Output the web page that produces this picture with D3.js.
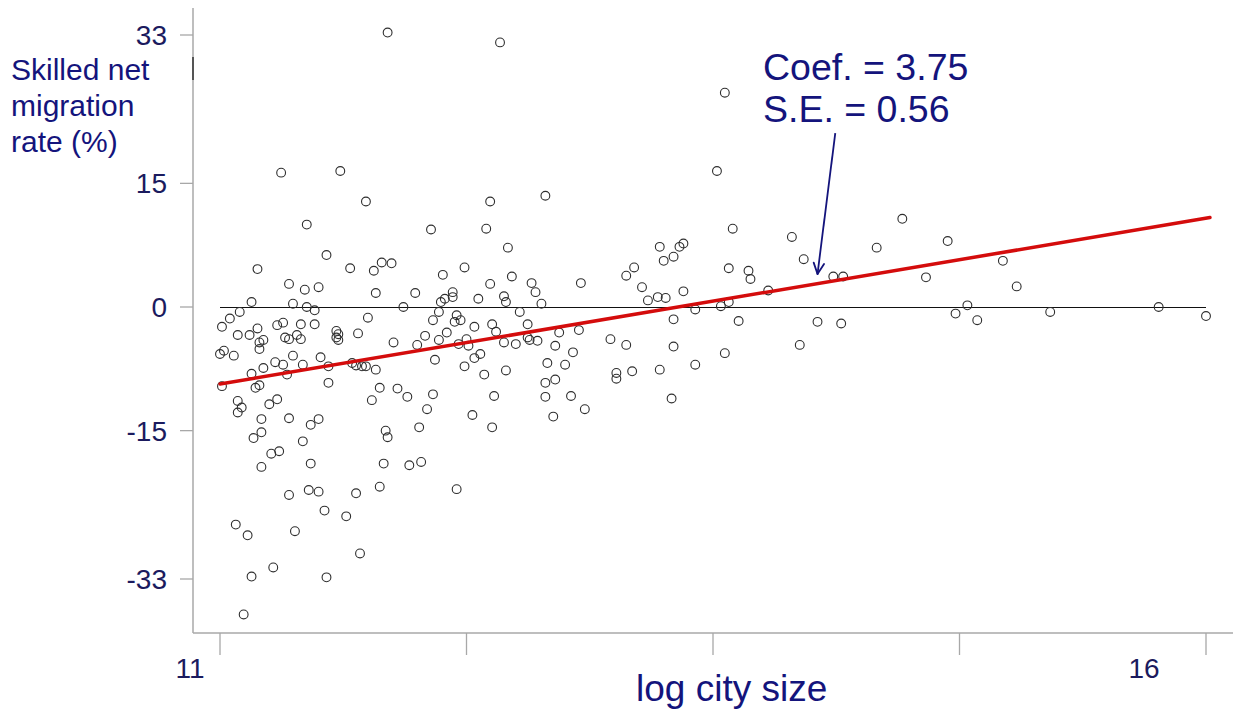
<!DOCTYPE html>
<html>
<head>
<meta charset="utf-8">
<script src="https://cdn.jsdelivr.net/npm/d3@7"></script>
<style>
  html, body { margin: 0; padding: 0; background: #fff; }
  svg { display: block; font-family: "Liberation Sans", Arial, sans-serif; }
</style>
</head>
<body>
<svg id="chart" width="1233" height="713"></svg>
<script>
(function () {
  // log city size for each city
  const cityX = [
    11.85, 11.31, 11.61, 11.74, 12.42, 12.65, 12.37, 13.56, 13.52,
    11.44, 11.54, 11.19, 11.66, 11.78, 11.82, 11.87, 11.35, 11.43, 11.50,
    11.79, 11.16, 11.37, 11.44, 11.48, 11.93, 11.10, 11.05, 11.01, 11.09,
    11.15, 11.19, 11.29, 11.32, 11.41, 11.48, 11.75, 11.20, 11.22, 11.33,
    11.35, 11.39, 11.41, 11.59, 11.60, 11.59, 11.60, 11.70, 11.88, 11.00,
    11.02, 11.07, 11.20, 11.37, 11.51, 11.28, 11.32, 11.42, 11.22, 11.16,
    11.34, 11.55, 11.67, 11.69, 11.72, 11.74, 11.79, 11.01, 11.18, 11.20,
    11.55, 11.81, 11.90,
    11.09, 11.11, 11.09, 11.25, 11.29, 11.77, 11.21, 11.35, 11.46, 11.50,
    11.21, 11.17, 11.42, 11.84, 11.85, 11.26, 11.30, 11.21, 11.46, 11.83,
    11.96, 11.35, 11.45, 11.50, 11.69, 11.81, 11.53, 11.64, 11.08, 11.14,
    11.38, 11.71, 11.16, 11.27, 11.54, 11.12,
    12.07, 12.35, 12.46, 12.24, 12.13, 12.48, 12.37, 12.58, 12.83, 11.99,
    12.18, 12.18, 12.14, 12.12, 12.31, 12.44, 12.45, 12.60, 12.63, 12.11,
    12.08, 12.20, 12.22, 12.19, 12.52, 12.38, 12.29, 12.56, 12.40, 12.15,
    12.04, 12.11, 12.25, 12.21, 12.26, 12.00, 12.44, 12.50, 12.56, 12.57,
    12.61, 12.72, 12.82, 12.70, 12.79, 12.98, 12.09, 12.29, 12.32, 12.24,
    12.34, 12.45, 12.66, 12.75, 12.65, 12.70, 12.08, 12.39, 12.65, 12.78,
    11.95,
    12.05, 12.28, 12.01, 12.38, 12.69, 12.85, 12.02, 12.20,
    13.60, 13.90, 13.96, 13.23, 13.33, 13.35, 13.25, 13.30, 13.10, 13.06,
    13.14, 13.17, 13.22, 13.26, 13.35, 13.58, 13.68, 13.69, 13.78, 13.41,
    13.54, 13.58, 13.30, 13.63, 13.06, 13.30, 13.56, 13.94, 13.01, 13.01,
    13.09, 13.23, 13.41, 13.29,
    14.46, 14.33, 14.69, 14.11, 14.16, 14.58, 14.97, 14.03, 14.15, 14.73,
    14.79, 14.84, 15.04, 15.21, 15.76, 16.00
  ];

  // skilled net migration rate (%) for each city
  const migY = [
    33.3, 16.3, 16.5, 12.8, 32.1, 13.5, 12.8, 26.0, 16.5,
    10.0, 6.3, 4.6, 4.7, 4.4, 5.4, 5.3, 2.8, 2.1, 2.4,
    1.7, 0.6, 0.4, 0.0, -0.4, 0.0, -0.6, -1.4, -2.4, -3.4,
    -3.4, -2.6, -2.2, -1.9, -2.1, -2.1, -1.3, -4.3, -4.0, -3.7,
    -3.9, -3.4, -3.9, -2.9, -3.3, -3.7, -4.0, -3.2, -4.3, -5.7,
    -5.3, -5.9, -5.1, -5.9, -6.1, -6.7, -7.0, -7.0, -7.4, -8.1,
    -8.2, -7.2, -6.8, -7.1, -7.2, -7.2, -7.6, -9.6, -9.8, -9.5,
    -9.2, -9.8, -9.9,
    -11.4, -12.2, -12.8, -11.8, -11.2, -11.3, -13.6, -13.5, -14.3, -13.6,
    -15.2, -15.9, -16.3, -15.0, -15.8, -17.8, -17.5, -19.4, -19.0, -19.0,
    -19.2, -22.8, -22.2, -22.4, -22.6, -21.8, -24.7, -25.4, -26.4, -27.7,
    -27.2, -29.9, -32.7, -31.6, -32.8, -37.3,
    9.4, 9.5, 7.2, 4.8, 3.9, 3.7, 2.8, 2.9, 2.9, 1.7,
    1.8, 1.2, 1.0, 0.6, 1.0, 1.3, 0.6, 1.8, 0.4, -0.6,
    -1.6, -1.0, -1.6, -1.8, -0.6, -2.1, -2.4, -2.1, -3.0, -3.1,
    -3.5, -4.0, -3.9, -4.5, -4.7, -4.6, -4.3, -4.5, -3.7, -4.0,
    -4.1, -3.1, -2.8, -4.7, -5.5, -3.9, -6.4, -6.2, -5.7, -7.2,
    -8.2, -7.7, -6.8, -7.0, -9.2, -8.8, -10.6, -10.8, -10.9, -10.8,
    -10.9,
    -12.4, -13.1, -14.6, -14.6, -13.3, -12.4, -18.8, -22.1,
    9.5, 8.5, 5.8, 7.3, 7.3, 7.7, 5.6, 6.1, 4.8, 3.8,
    2.4, 0.8, 1.2, 1.1, 1.9, 4.7, 4.4, 3.4, 2.0, -0.3,
    0.1, 0.6, -1.5, -1.7, -4.6, -4.8, -5.6, -4.6, -8.0, -8.7,
    -7.8, -7.6, -7.0, -11.1,
    10.7, 7.2, 8.0, 3.7, 3.7, 3.6, 5.6, -1.8, -2.0, -0.8,
    0.2, -1.6, 2.5, -0.6, 0.0, -1.1
  ];

  // fitted line end points
  const regX = [11, 16.02];
  const regY = [-9.35, 10.85];

  const xTicks = [11, 12.25, 13.5, 14.75, 16];
  const xTickLabels = ["11", "16"];
  const xLabelValues = [11, 16];
  const yTicks = [33, 15, 0, -15, -33];
  const yTickLabels = ["33", "15", "0", "-15", "-33"];
  const yTitle = ["Skilled net", "migration", "rate (%)"];
  const note = ["Coef. = 3.75", "S.E. = 0.56"];
  const arrowFrom = [14.12, 21.1];
  const arrowTo = [14.03, 4.0];

  const navy = "#14147c";
  const axisGrey = "#a8a8a8";

  const svg = d3.select("#chart");
  const x = d3.scaleLinear().domain([11, 16]).range([220, 1206]);
  const y = d3.scaleLinear().domain([-33, 33]).range([579, 35]);

  const axisX = 193;
  const axisY = 633;

  // axis lines
  svg.append("line")
    .attr("x1", axisX).attr("x2", axisX)
    .attr("y1", 8).attr("y2", axisY)
    .attr("stroke", axisGrey).attr("stroke-width", 1.5);
  svg.append("line")
    .attr("x1", axisX).attr("x2", 1233)
    .attr("y1", axisY).attr("y2", axisY)
    .attr("stroke", axisGrey).attr("stroke-width", 1.5);
  svg.append("line")
    .attr("x1", axisX).attr("x2", axisX)
    .attr("y1", 57).attr("y2", 80)
    .attr("stroke", "#555").attr("stroke-width", 2);

  // y ticks + labels
  svg.selectAll("line.ytick")
    .data(yTicks)
    .join("line")
    .attr("class", "ytick")
    .attr("x1", axisX - 13).attr("x2", axisX)
    .attr("y1", d => y(d)).attr("y2", d => y(d))
    .attr("stroke", axisGrey).attr("stroke-width", 1.3);
  svg.selectAll("text.ylab")
    .data(yTicks)
    .join("text")
    .attr("class", "ylab")
    .attr("x", 167)
    .attr("y", d => y(d))
    .attr("dy", "0.36em")
    .attr("text-anchor", "end")
    .attr("font-size", 28)
    .attr("fill", "#1b1b5e")
    .text((_d, i) => yTickLabels[i]);

  // x ticks + labels
  svg.selectAll("line.xtick")
    .data(xTicks)
    .join("line")
    .attr("class", "xtick")
    .attr("x1", d => x(d)).attr("x2", d => x(d))
    .attr("y1", axisY).attr("y2", axisY + 22)
    .attr("stroke", axisGrey).attr("stroke-width", 1.3);
  const xLabelShift = [-30, -62];
  svg.selectAll("text.xlab")
    .data(xLabelValues)
    .join("text")
    .attr("class", "xlab")
    .attr("x", (d, i) => x(d) + xLabelShift[i])
    .attr("y", 678)
    .attr("text-anchor", "middle")
    .attr("font-size", 28)
    .attr("fill", "#1b1b5e")
    .text((_d, i) => xTickLabels[i]);

  // zero reference line
  svg.append("line")
    .attr("x1", x(11)).attr("x2", x(16))
    .attr("y1", Math.round(y(0)) + 0.5).attr("y2", Math.round(y(0)) + 0.5)
    .attr("stroke", "#111").attr("stroke-width", 1);

  // points
  svg.append("g")
    .selectAll("circle")
    .data(cityX)
    .join("circle")
    .attr("cx", d => x(d))
    .attr("cy", (_d, i) => y(migY[i]))
    .attr("r", 4.4)
    .attr("fill", "none")
    .attr("stroke", "#2e2e2e")
    .attr("stroke-width", 1.1);

  // fitted line
  svg.append("line")
    .attr("x1", x(regX[0])).attr("y1", y(regY[0]))
    .attr("x2", x(regX[1])).attr("y2", y(regY[1]))
    .attr("stroke", "#d40c0c").attr("stroke-width", 3.5)
    .attr("stroke-linecap", "round");

  // annotation
  svg.selectAll("text.note")
    .data(note)
    .join("text")
    .attr("class", "note")
    .attr("x", 763)
    .attr("y", (_d, i) => 80 + i * 42)
    .attr("font-size", 37.5)
    .attr("fill", navy)
    .text(d => d);

  const ax0 = x(arrowFrom[0]), ay0 = y(arrowFrom[1]);
  const ax1 = x(arrowTo[0]), ay1 = y(arrowTo[1]);
  svg.append("line")
    .attr("x1", ax0).attr("y1", ay0).attr("x2", ax1).attr("y2", ay1)
    .attr("stroke", navy).attr("stroke-width", 1.8);
  const ang = Math.atan2(ay1 - ay0, ax1 - ax0);
  const head = 12;
  [0.45, -0.45].forEach(off => {
    svg.append("line")
      .attr("x1", ax1).attr("y1", ay1)
      .attr("x2", ax1 - head * Math.cos(ang + off))
      .attr("y2", ay1 - head * Math.sin(ang + off))
      .attr("stroke", navy).attr("stroke-width", 1.8)
      .attr("stroke-linecap", "round");
  });

  // axis titles
  svg.selectAll("text.ytitle")
    .data(yTitle)
    .join("text")
    .attr("class", "ytitle")
    .attr("x", 11)
    .attr("y", (_d, i) => 80 + i * 36)
    .attr("font-size", 30)
    .attr("fill", navy)
    .text(d => d);

  svg.append("text")
    .attr("x", 636)
    .attr("y", 701)
    .attr("font-size", 37)
    .attr("fill", navy)
    .text("log city size");
})();
</script>
</body>
</html>
